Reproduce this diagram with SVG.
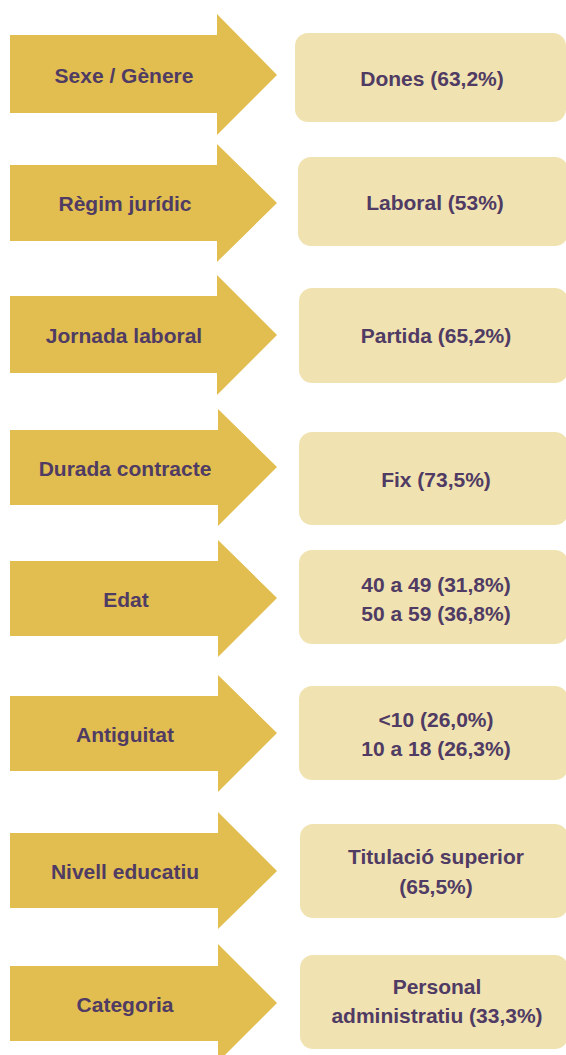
<svg xmlns="http://www.w3.org/2000/svg" width="566" height="1055" viewBox="0 0 566 1055">
<style>
.arrow{fill:#E1BE4F}
.box{fill:#F1E2B1}
text{font-family:"Liberation Sans",Arial,sans-serif;font-weight:bold;font-size:21px;fill:#4F3B63;text-anchor:middle}
</style>
<rect width="566" height="1055" fill="#FFFFFF"/>
<g id="arrow-sexe"><polygon class="arrow" points="10,35 217,35 217,14 277,75 217,135 217,113 10,113"/><text x="124" y="83">Sexe / Gènere</text></g>
<g id="box-sexe"><rect class="box" x="295" y="33" width="271" height="89" rx="13"/><text x="432" y="86">Dones (63,2%)</text></g>

<g id="arrow-regim"><polygon class="arrow" points="10,165 217,165 217,144 277,203 217,262 217,241 10,241"/><text x="125" y="211">Règim jurídic</text></g>
<g id="box-regim"><rect class="box" x="298" y="157" width="270" height="89" rx="13"/><text x="435" y="210">Laboral (53%)</text></g>

<g id="arrow-jornada"><polygon class="arrow" points="10,296 217,296 217,275 277,335 217,395 217,373 10,373"/><text x="124" y="343">Jornada laboral</text></g>
<g id="box-jornada"><rect class="box" x="299" y="288" width="269" height="95" rx="13"/><text x="436" y="343">Partida (65,2%)</text></g>

<g id="arrow-durada"><polygon class="arrow" points="10,430 218,430 218,409 277,467 218,526 218,505 10,505"/><text x="125" y="476">Durada contracte</text></g>
<g id="box-durada"><rect class="box" x="299" y="432" width="269" height="93" rx="13"/><text x="436" y="487">Fix (73,5%)</text></g>

<g id="arrow-edat"><polygon class="arrow" points="10,561 218,561 218,540 277,598 218,657 218,636 10,636"/><text x="126" y="607">Edat</text></g>
<g id="box-edat"><rect class="box" x="299" y="550" width="269" height="94" rx="13"/><text x="436" y="592">40 a 49 (31,8%)</text><text x="436" y="621">50 a 59 (36,8%)</text></g>

<g id="arrow-antiguitat"><polygon class="arrow" points="10,696 218,696 218,675 277,733 218,792 218,771 10,771"/><text x="125" y="742">Antiguitat</text></g>
<g id="box-antiguitat"><rect class="box" x="299" y="686" width="269" height="94" rx="13"/><text x="436" y="727">&lt;10 (26,0%)</text><text x="436" y="756">10 a 18 (26,3%)</text></g>

<g id="arrow-nivell"><polygon class="arrow" points="10,833 218,833 218,812 277,871 218,929 218,908 10,908"/><text x="125" y="879">Nivell educatiu</text></g>
<g id="box-nivell"><rect class="box" x="300" y="824" width="268" height="94" rx="13"/><text x="436" y="864">Titulació superior</text><text x="436" y="894">(65,5%)</text></g>

<g id="arrow-categoria"><polygon class="arrow" points="10,966 218,966 218,944 277,1003 218,1062 218,1041 10,1041"/><text x="125" y="1012">Categoria</text></g>
<g id="box-categoria"><rect class="box" x="300" y="955" width="268" height="94" rx="13"/><text x="437" y="994">Personal</text><text x="437" y="1023">administratiu (33,3%)</text></g>

<g id="connectors"/>
</svg>
